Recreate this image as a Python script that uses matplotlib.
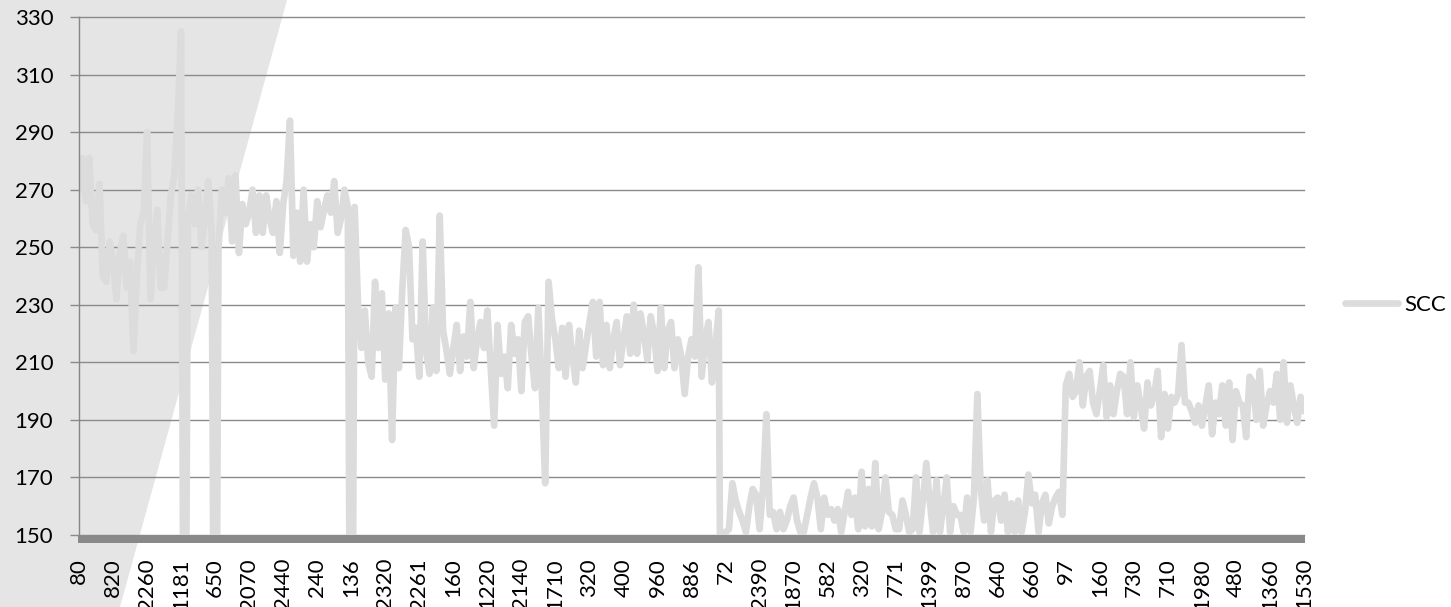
import numpy as np
import matplotlib.pyplot as plt
from matplotlib.patches import Polygon, Rectangle

# category labels shown on the x axis (one every 10 points)
labels = ['80', '820', '2260', '1181', '650', '2070', '2440', '240', '136', '2320',
          '2261', '160', '1220', '2140', '1710', '320', '400', '960', '886', '72',
          '2390', '1870', '582', '320', '771', '1399', '870', '640', '660', '97',
          '160', '730', '710', '1980', '480', '1360', '1530']

# SCC series (0 = drops below the axis minimum)
scc = [
    270, 281, 266, 281, 258, 256, 272, 240, 238, 252,
    245, 232, 248, 254, 236, 245, 214, 240, 258, 262,
    290, 232, 250, 263, 236, 236, 252, 268, 275, 296,
    325, 0, 260, 268, 258, 270, 250, 260, 273, 255,
    0, 250, 270, 262, 274, 252, 275, 248, 265, 258,
    262, 270, 255, 268, 255, 268, 260, 255, 266, 248,
    265, 273, 294, 247, 262, 245, 270, 245, 258, 250,
    266, 257, 263, 268, 262, 273, 255, 260, 270, 264,
    0, 264, 230, 215, 228, 210, 205, 238, 215, 234,
    204, 227, 183, 229, 208, 235, 256, 250, 218, 222,
    205, 252, 214, 206, 229, 207, 261, 221, 214, 206,
    215, 223, 207, 219, 212, 231, 208, 218, 224, 215,
    228, 208, 188, 223, 206, 212, 201, 223, 213, 218,
    200, 224, 226, 212, 201, 229, 201, 168, 238, 225,
    218, 208, 222, 205, 223, 212, 203, 221, 208, 216,
    224, 231, 212, 231, 209, 223, 208, 218, 224, 209,
    218, 226, 213, 230, 213, 227, 220, 211, 226, 220,
    207, 229, 208, 221, 224, 208, 218, 212, 199, 212,
    218, 212, 243, 205, 218, 224, 203, 215, 228, 0,
    151, 152, 168, 162, 158, 155, 151, 160, 166, 164,
    152, 166, 192, 157, 158, 152, 158, 152, 155, 160,
    163, 155, 151, 151, 157, 163, 168, 163, 152, 163,
    157, 159, 155, 159, 151, 158, 165, 157, 163, 152,
    172, 153, 166, 153, 175, 152, 158, 170, 158, 157,
    152, 152, 162, 157, 151, 152, 170, 151, 162, 175,
    162, 151, 169, 151, 160, 170, 151, 160, 157, 157,
    151, 163, 151, 163, 199, 166, 155, 169, 151, 162,
    163, 155, 164, 151, 161, 151, 162, 151, 158, 171,
    161, 164, 151, 161, 164, 154, 160, 163, 165, 157,
    202, 206, 198, 200, 210, 195, 205, 207, 196, 192,
    200, 209, 191, 202, 192, 200, 206, 205, 192, 210,
    191, 202, 195, 187, 203, 195, 199, 207, 184, 199,
    187, 198, 196, 199, 216, 196, 196, 193, 189, 195,
    188, 195, 202, 185, 196, 192, 202, 188, 203, 183,
    200, 196, 195, 184, 205, 203, 190, 207, 188, 195,
    200, 196, 206, 190, 210, 189, 202, 195, 189, 198,
    193,
]

plt.rcParams['font.family'] = 'Lato'

W, H = 1451, 607
fig = plt.figure(figsize=(W / 100, H / 100), dpi=100)
ax = fig.add_axes([79 / W, 72 / H, 1225 / W, 518 / H])
ax.patch.set_alpha(0)

# grey slanted band in the background
band = Polygon([(0, 0), (120 / W, 0), (287 / W, 1), (0, 1)], closed=True,
               transform=fig.transFigure, facecolor='#e5e5e5', edgecolor='none', zorder=-1)
fig.patches.append(band)

for s in ['top', 'right', 'bottom']:
    ax.spines[s].set_visible(False)
ax.spines['left'].set_color('#868686')
ax.spines['left'].set_linewidth(1.0)

# thick grey category axis just under the plot area (8 px high)
ax.add_patch(Rectangle((-1 / 1225, -8 / 518), 1 + 2 / 1225, 8 / 518, transform=ax.transAxes,
                       facecolor='#898989', edgecolor='none', clip_on=False, zorder=4))

x = np.arange(len(scc))
ax.plot(x, scc, color='#dcdcdc', lw=4.8, solid_joinstyle='round',
        solid_capstyle='round', label='SCC', zorder=2)

ax.set_xlim(0, len(scc) - 1)
ax.set_ylim(150, 330)
ax.set_yticks(range(150, 331, 20))
ax.set_xticks(x[::10])
ax.set_xticklabels(labels)

ax.grid(axis='y', color='#8a8a8a', lw=1.0)
for gl in ax.get_ygridlines():
    gl.set_clip_on(False)
    gl.set_zorder(3)

ax.tick_params(axis='y', length=6.5, width=1, color='#8a8a8a', pad=12, labelsize=16)
ax.tick_params(axis='x', bottom=False, pad=13, labelsize=16, labelrotation=90)

ax.legend(loc='center left', bbox_to_anchor=(1345 / W, 302 / H), bbox_transform=fig.transFigure,
          frameon=False, borderpad=0, borderaxespad=0, handlelength=2.4,
          handletextpad=0.25, fontsize=16)

fig.savefig('out.png', dpi=100)
